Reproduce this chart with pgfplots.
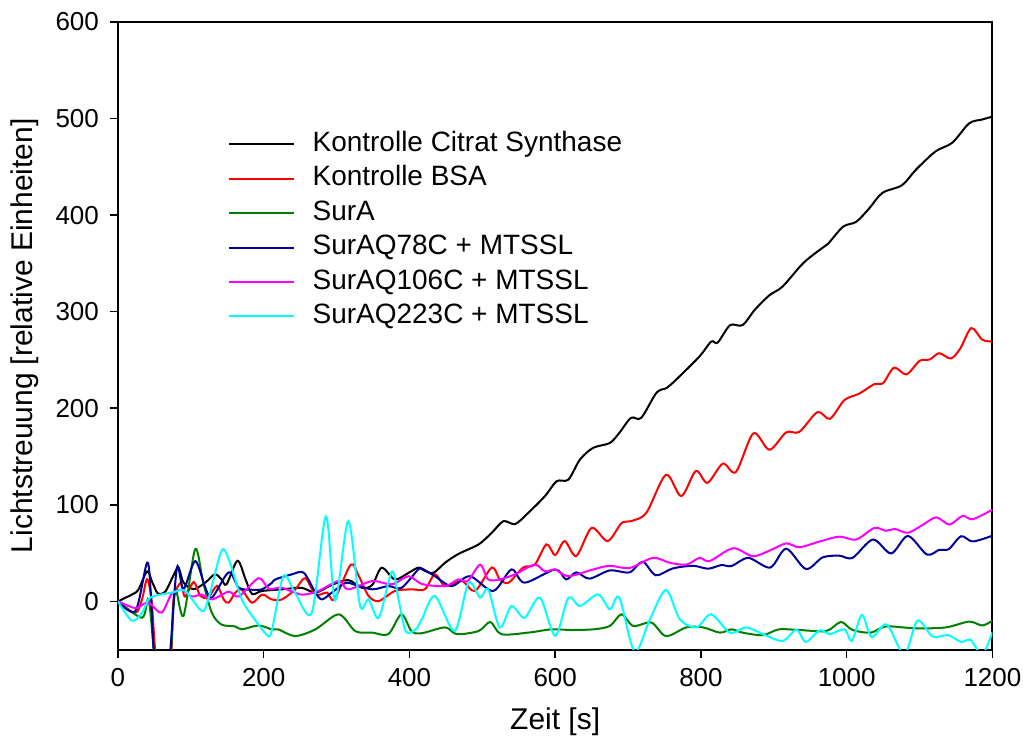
\documentclass[border=0pt]{standalone}
\usepackage{pgfplots}
\pgfplotsset{compat=1.18}
\usepackage{fontspec}
\setmainfont{Liberation Sans}
\definecolor{cgreen}{RGB}{0,128,0}
\definecolor{cblue}{RGB}{0,0,150}
\definecolor{cmag}{RGB}{255,0,255}
\definecolor{ccyan}{RGB}{0,255,255}
\begin{document}
\begin{tikzpicture}
\begin{axis}[
  scale only axis,
  width=437.5pt, height=314pt,
  xmin=0, xmax=1200, ymin=-50, ymax=600,
  xtick={0,200,...,1200}, ytick={0,100,...,600},
  xtick pos=left, ytick pos=left,
  tick align=outside, major tick length=4pt,
  axis line style={line width=1pt},
  every tick/.style={black, line width=0.8pt},
  /pgf/number format/assume math mode=true,
  /pgf/number format/1000 sep={},
  tick label style={font=\fontsize{13}{15}\selectfont},
  xticklabel style={yshift=-2pt},
  yticklabel style={xshift=-2pt},
  xlabel={Zeit [s]},
  ylabel={Lichtstreuung [relative Einheiten]},
  label style={font=\fontsize{15}{17}\selectfont},
  xlabel style={at={(axis description cs:0.5,-0.115)}, anchor=center},
  ylabel style={at={(axis description cs:-0.106,0.5)}, anchor=center},
  legend cell align=left,
  legend style={at={(0.125,0.833)}, anchor=north west, draw=none, fill=none,
    font=\fontsize{14}{16}\selectfont, inner sep=0pt,
    nodes={inner sep=2pt, text height=10.2pt, text depth=3pt}},
  legend image code/.code={\draw[#1, line width=1pt] (0pt,0pt) -- (32.5pt,0pt); \path (39.5pt,0pt);},
  every axis plot/.append style={line width=1pt},
]
\addplot[black, smooth, tension=0.5] coordinates {
(0,0) (19,7) (28,12) (40,31) (47,20) (55,8) (65,10) (75,25) (83,35) (90,19.5)
(104,12.6) (120,19.5) (133,28) (142,23) (149,17.6) (164,42) (175,23) (184,7.7)
(197.5,10.7) (225,12.4) (252,14) (271,9) (293.5,17) (316,22) (335,14) (349,17)
(362,34.8) (380,22.7) (399,29.6) (412,34.8) (421,31.5) (433,29.6) (449,40)
(467,49) (495,59) (513,71) (529,83) (545,80) (563,91.6) (586,109) (602,124.4)
(618,126) (634,146.8) (652,158.9) (675,164) (688,174.5) (704,190) (718,190)
(739,216) (753,221) (766,229.6) (798,253.6) (814,269) (823,268) (840,286)
(857,286) (874,302) (894,317) (912,326) (940,350) (963,364) (974,370) (995,388)
(1013,393) (1031,407) (1049,423) (1076,431) (1095,447) (1122,466) (1145,475)
(1168,495) (1186,499) (1200,502)};
\addlegendentry{Kontrolle Citrat Synthase}
\addplot[red, smooth, tension=0.5] coordinates {
(0,0) (23.8,-12) (33,2) (40,23) (46,2) (50,-40) (58,-120) (68,-100) (73.6,-50)
(76.4,2) (86,19) (92,5) (104,20) (113,5.6) (124,4) (136,16) (145,2) (152,-1.4)
(161,9) (170,12) (184,-1.4) (198,7) (211,2) (225,2) (243,12) (257,24) (271,7)
(287,9) (297,2) (319.5,38) (330.6,26) (344,5.5) (358,0.3) (380,10.7) (403,12.4)
(421,12.4) (435,28) (449,15.8) (472,21) (490,10.7) (513,35) (524,22.7)
(536,19.3) (556,35) (572,38) (588,59) (600,48) (613,62.4) (629,47) (650,76)
(672,62.4) (691,81) (704,83) (725,91.6) (752,131) (773,109) (793,135)
(809,122.7) (830,142.6) (848,134) (872,174) (894,157) (917,175) (935,175.5)
(960,196) (977,189) (997,208.5) (1017,215) (1038,225) (1050,226) (1065,242)
(1082,235) (1100,249) (1114,250.5) (1127,257) (1143,251.5) (1156,262)
(1171,283) (1186,271) (1200,269)};
\addlegendentry{Kontrolle BSA}
\addplot[cgreen, smooth, tension=0.5] coordinates {
(0,0) (33,-17) (42,2) (49,-50) (56,-120) (66,-100) (73,-50) (78.5,12) (90,-15)
(106,54) (117,19.5) (129,-12) (142,-24) (161,-26) (170,-29) (193,-25) (211,-29)
(220,-29) (243,-36) (271,-29) (303,-13.5) (326,-31) (349,-32.4) (371,-34)
(389,-13.5) (403,-31) (417,-33) (449,-27) (465,-34) (495,-30.7) (511,-21.4)
(526,-34) (563,-32.4) (595,-29) (622,-29.7) (652,-29) (675,-25.5) (691,-13.4)
(707,-25.5) (732,-22) (752,-36) (780,-27) (803,-27) (826,-32.4) (842,-29)
(857,-32.4) (885,-35) (907,-29) (935,-29.7) (972,-30.7) (992,-21.4)
(1008,-29.7) (1033,-32.4) (1054,-26) (1095,-28) (1136,-27) (1168,-21)
(1186,-25) (1200,-20)};
\addlegendentry{SurA}
\addplot[cblue, smooth, tension=0.5] coordinates {
(0,0) (24,-10) (40,40) (45,10) (49,-50) (57,-120) (66,-100) (72,-50) (81,35)
(90,12.6) (106,41.7) (120,14) (129,3.8) (152,30) (166,14) (184,12) (197.5,12.4)
(211,19) (216,22.7) (239,28) (255,29.6) (271,9) (280,2) (293.5,9) (312,19)
(326,17) (349,12.4) (371,15.8) (389,14) (412,33) (417,34) (435,26) (458,15.8)
(483,26) (515,10.7) (540,33) (558,19.3) (600,33) (615,22.7) (629,30)
(647,23.5) (675,32) (702,30) (720,41) (738,27) (761,34) (789,36.8) (810,33.8)
(828,37.6) (842,36.5) (865,45) (895,35) (917,54.5) (944,33.5) (967,45.5)
(990,47.3) (1008,45) (1036,64) (1061,49.6) (1084,67.7) (1110,48.5)
(1127,53.3) (1140,54) (1157,67.4) (1173,62) (1200,68)};
\addlegendentry{SurAQ78C + MTSSL}
\addplot[cmag, smooth, tension=0.5] coordinates {
(0,0) (23.8,-7) (37,-2) (45,-3) (60,-11.7) (74,8) (88,11.7) (101.5,5) (115,7)
(129,2) (152,10) (166,5) (193,24) (207,13) (225,14) (252,7) (275,10.7)
(303,21) (316,12.4) (349,21) (376,17.6) (399,26) (417,18) (449,15.8)
(467,22.7) (480,21) (497,38) (508,22.7) (524,22.7) (545,28) (572,38) (586,31)
(600,33) (618,26) (652,33) (675,36.8) (702,34.5) (734,45) (757,40) (780,38)
(798,45) (812,41.7) (844,55) (871,46.7) (894,52.5) (917,60) (935,56) (963,62)
(990,67) (1013,64) (1038,76) (1054,73) (1066,75) (1084,71) (1104,79)
(1123,87) (1141,79.5) (1159,88.5) (1173,85) (1200,95)};
\addlegendentry{SurAQ106C + MTSSL}
\addplot[ccyan, smooth, tension=0.5] coordinates {
(0,0) (19,-20) (33,-12) (42,2) (51,5.8) (74,9) (92,11) (115,-10) (124,2)
(142,52) (152,43.7) (170,2) (188,-19) (204,-34.5) (211,-31) (227,26) (243,9)
(266,-11.8) (285.4,88) (298,1) (316,83) (330,5.5) (335,-8) (344,2) (358,-17)
(376,31) (385,2) (395,-31) (408.6,-29) (417,-18.6) (435,5.5) (462,-30.7)
(481,19.3) (497,3.8) (508,12.4) (524,-27.2) (540,-5) (558,-17) (579,3.8)
(600,-35.8) (618,3.8) (634,-4.8) (659,7.2) (675,-8.3) (688,3.8) (709,-52)
(730,-18.6) (752,11.7) (771,-18.6) (794,-27) (814,-13.4) (840,-32.6)
(862,-27) (885,-34) (912,-41) (931,-29.5) (944,-42) (963,-30) (977,-34)
(997,-29) (1007,-41) (1021,-14) (1034,-37) (1055,-24) (1079,-55) (1097,-20)
(1118,-36.5) (1139,-35) (1157,-42) (1170,-40) (1186,-55) (1200,-32)};
\addlegendentry{SurAQ223C + MTSSL}
\end{axis}
\path (current axis.south west) ++(-59pt,-49.5pt);
\path (current axis.north east) ++(17.5pt,11pt);
\end{tikzpicture}
\end{document}
